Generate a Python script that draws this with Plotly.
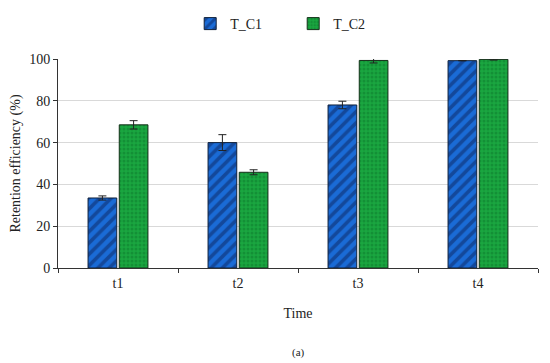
import plotly.graph_objects as go

categories = ["t1", "t2", "t3", "t4"]
tc1_values = [33.5, 60.0, 78.0, 99.2]
tc1_errors = [1.0, 3.8, 1.8, 0.0]
tc2_values = [68.5, 45.8, 99.3, 99.8]
tc2_errors = [2.0, 1.2, 1.2, 0.3]

FONT = "Liberation Serif"
OFF = 8  # page body margin
W, H = 550 - OFF, 363 - OFF
T, B, L, R = 59 - OFF, 95, 58 - OFF, 12
PH = H - T - B

fig = go.Figure()
fig.add_trace(go.Bar(
    name="T_C1", x=categories, y=tc1_values,
    error_y=dict(type="data", array=tc1_errors, color="#222", thickness=1, width=4),
    marker=dict(color="#1a6bd6", line=dict(color="#10203a", width=1),
                pattern=dict(shape="/", fgcolor="#0b2660", bgcolor="#1a6bd6", size=8, solidity=0.45)),
))
fig.add_trace(go.Bar(
    name="T_C2", x=categories, y=tc2_values,
    error_y=dict(type="data", array=tc2_errors, color="#222", thickness=1, width=4),
    marker=dict(color="#1aa640", line=dict(color="#15301a", width=1),
                pattern=dict(shape=".", fgcolor="#0c7a2c", bgcolor="#1aa640", size=4, solidity=0.45)),
))

fig.update_layout(
    width=W, height=H,
    paper_bgcolor="white", plot_bgcolor="white",
    margin=dict(l=L, r=R, t=T, b=B, autoexpand=False),
    barmode="group", bargap=0.48, bargroupgap=0.08,
    font=dict(family=FONT, size=14, color="#222"),
    legend=dict(orientation="h", x=0.49, xanchor="center", xref="paper",
                y=1, yref="container", yanchor="top",
                font=dict(family=FONT, size=14), itemwidth=30, traceorder="normal",
                entrywidth=58, entrywidthmode="pixels"),
    xaxis=dict(title=dict(text="Time", font=dict(size=14), standoff=18),
               showline=True, linecolor="#333", linewidth=1,
               ticks="outside", tickson="boundaries", ticklen=4, tickcolor="#333",
               ticklabelstandoff=2, tickfont=dict(size=14)),
    yaxis=dict(title=dict(text="Retention efficiency (%)", font=dict(size=14), standoff=8),
               range=[0, 100], dtick=20, showline=True, linecolor="#333", linewidth=1,
               ticks="outside", ticklen=4, tickcolor="#333",
               showgrid=True, gridcolor="#d9d9d9", gridwidth=1,
               tickfont=dict(size=14)),
    annotations=[dict(text="(a)", x=0.5, xref="paper", y=(H - B - (352 - OFF)) / PH, yref="paper",
                      yanchor="middle", showarrow=False, font=dict(family=FONT, size=11))],
)

fig.write_html("out.html")
